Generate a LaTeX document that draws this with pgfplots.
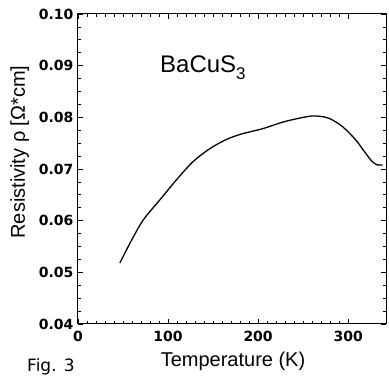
\documentclass[border=0pt]{standalone}
\usepackage{fontspec}
\setmainfont{Liberation Sans}
\newfontfamily\tickfont{DejaVu Sans}
\usepackage{pgfplots}
\pgfplotsset{compat=1.18}
\begin{document}
\begin{tikzpicture}
\begin{axis}[name=ax, scale only axis, width=308pt, height=310pt,
  xmin=0, xmax=342, ymin=0.04, ymax=0.10,
  xtick={0,100,200,300}, xticklabels={0,100,200,300},
  ytick={0.04,0.05,0.06,0.07,0.08,0.09,0.10},
  yticklabels={0.04,0.05,0.06,0.07,0.08,0.09,0.10},
  minor x tick num=9, minor y tick num=3,
  tick align=inside, major tick length=5pt, minor tick length=3pt,
  axis line style={line width=1pt},
  every tick/.style={black, line width=0.8pt},
  ticklabel style={font=\tickfont\bfseries\fontsize{14}{14}\selectfont},
  yticklabel style={xshift=-1pt},
  xticklabel style={yshift=-4pt},
  clip=false]
\addplot[black, line width=1.3pt, smooth, tension=0.5] coordinates {
(46.5,0.0518) (57.6,0.0556) (72.3,0.0601) (90.8,0.0640) (109.3,0.0679)
(127.6,0.0714) (146.1,0.0739) (164.6,0.0757) (182,0.0768)
(205,0.0778) (230,0.0792) (256.8,0.0802) (267.9,0.0802) (279,0.0798)
(293.7,0.0782) (308.5,0.0756) (319.6,0.0730) (326.9,0.0714) (332.4,0.0708)
(338,0.0708)};
\node[anchor=base west, font=\fontsize{24}{24}\selectfont, inner sep=0pt] at (axis cs:91,0.0886)
  {BaCuS\raisebox{-0.5ex}{\fontsize{17}{17}\selectfont 3}};
\end{axis}
\node[anchor=base, font=\fontsize{20}{20}\selectfont, inner sep=0pt] at ([xshift=1pt,yshift=-43pt]ax.south) {Temperature (K)};
\node[anchor=base, rotate=90, font=\fontsize{20}{20}\selectfont, inner sep=0pt] at ([xshift=-53pt,yshift=172pt]ax.south west) {Resistivity ρ [Ω*cm]};
\node[anchor=base west, font=\tickfont\fontsize{17}{17}\selectfont, inner sep=0pt] at ([xshift=-51pt,yshift=-48pt]ax.south west) {Fig. 3};
\pgfresetboundingbox
\path[use as bounding box] ([xshift=-78pt,yshift=-55pt]ax.south west) rectangle ([xshift=3pt,yshift=14pt]ax.north east);
\end{tikzpicture}
\end{document}
